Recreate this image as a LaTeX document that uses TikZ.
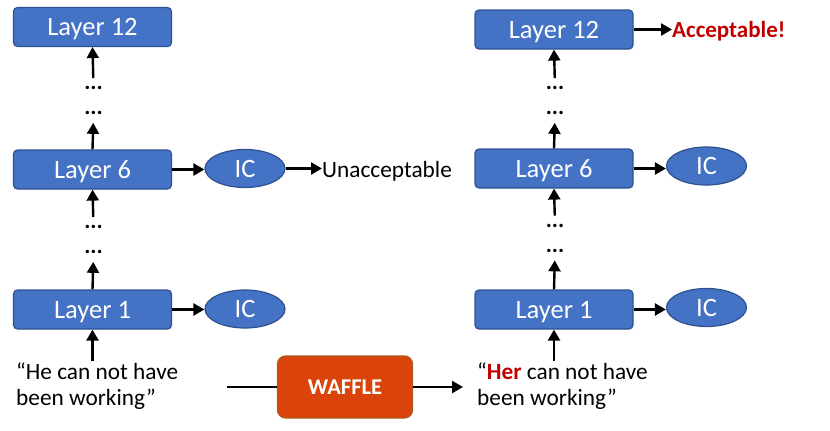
\documentclass[tikz,border=0pt]{standalone}
\usepackage{fontspec}
\setmainfont{Carlito}
\usetikzlibrary{arrows.meta,shapes.geometric}
\definecolor{boxblue}{HTML}{4472C4}
\definecolor{boxedge}{HTML}{2F528F}
\definecolor{waffleor}{HTML}{DA440A}
\definecolor{waffleedge}{HTML}{AE5A21}
\definecolor{okred}{HTML}{C00000}
\begin{document}
\begin{tikzpicture}[x=1pt,y=-1pt,
  layer/.style={draw=boxedge, line width=1.2pt, fill=boxblue, rounded corners=4pt,
    minimum width=158pt, minimum height=39pt, inner sep=0pt, text=white, text depth=0pt,
    font=\fontsize{26.5}{30}\selectfont},
  icnode/.style={ellipse, draw=boxedge, line width=1.2pt, fill=boxblue,
    minimum width=80pt, minimum height=38pt, inner sep=0pt, text=white, text depth=0pt,
    font=\fontsize{26.5}{30}\selectfont},
  arr/.style={line width=2.4pt, -{Triangle[length=11pt,width=12pt]}},
  plain/.style={line width=2.4pt},
  dotpair/.style={font=\fontsize{23}{25}\selectfont\bfseries, align=center, inner sep=0pt, anchor=base},
  txt/.style={font=\fontsize{23.3}{26}\selectfont, align=left, inner sep=0pt, anchor=base west},
  lbl/.style={font=\fontsize{23.3}{26}\selectfont, inner sep=0pt, anchor=base west},
  wafflebox/.style={draw=waffleedge, line width=1.2pt, fill=waffleor, rounded corners=8pt,
    minimum width=135pt, minimum height=62pt, inner sep=0pt, text=white, text depth=0pt,
    font=\fontsize{22.5}{26}\selectfont\bfseries},
  gapstart/.style={shorten <=8pt},
  gapend/.style={shorten >=8pt}
]
\useasboundingbox (0,0) rectangle (830,431);

% ---------- left column ----------
\node[layer] (L12a) at (92.5,27) {Layer 12};
\node[layer] (L6a) at (92.5,169.5) {Layer 6};
\node[layer] (L1a) at (92.5,309.5) {Layer 1};
\node[icnode] (IC6a) at (245,168.5) {IC};
\node[icnode] (IC1a) at (245,309) {IC};
\node[dotpair] (daU) at (93.5,114.5) {...\\...};
\node[dotpair] (daL) at (93.5,253.5) {...\\...};
\node[lbl] (unacc) at (322,177) {Unacceptable};
\node[txt] (txtA) at (16,405) {“He can not have\\been working”};

\draw[arr, gapstart] (daU.north) -- (L12a.south);
\draw[arr, gapend] (L6a.north) -- (daU.south);
\draw[arr, gapstart] (daL.north) -- (L6a.south);
\draw[arr, gapend] (L1a.north) -- (daL.south);
\coordinate (inA) at (92.5,361);
\draw[arr] (inA) -- (L1a.south);
\draw[arr] (L6a.east) -- (L6a.east -| IC6a.west);
\draw[arr] (IC6a.east) -- (unacc.west |- IC6a.east);
\draw[arr] (L1a.east) -- (L1a.east -| IC1a.west);

% ---------- WAFFLE ----------
\node[wafflebox] (waf) at (345,387) {WAFFLE};
\coordinate (wstart) at (227,387);
\coordinate (wend) at (463,387);
\draw[plain] (wstart) -- (waf.west);
\draw[arr] (waf.east) -- (wend);

% ---------- right column ----------
\node[layer] (L12b) at (554,29.5) {Layer 12};
\node[layer] (L6b) at (554,168.5) {Layer 6};
\node[layer] (L1b) at (554,309.5) {Layer 1};
\node[icnode] (IC6b) at (706.5,166) {IC};
\node[icnode] (IC1b) at (706.5,307.5) {IC};
\node[dotpair] (dbU) at (555,114.5) {...\\...};
\node[dotpair] (dbL) at (555,252) {...\\...};
\node[lbl, text=okred, font=\fontsize{23}{26}\selectfont\bfseries] (acc) at (672,37) {Acceptable!};
\node[txt] (txtB) at (477,405) {“\textcolor{okred}{\textbf{Her}} can not have\\been working”};

\draw[arr, gapstart] (dbU.north) -- (L12b.south);
\draw[arr, gapend] (L6b.north) -- (dbU.south);
\draw[arr, gapstart] (dbL.north) -- (L6b.south);
\draw[arr, gapend] (L1b.north) -- (dbL.south);
\coordinate (inB) at (554,361);
\draw[arr] (inB) -- (L1b.south);
\draw[arr] (L12b.east) -- (acc.west |- L12b.east);
\draw[arr] (L6b.east) -- (L6b.east -| IC6b.west);
\draw[arr] (L1b.east) -- (L1b.east -| IC1b.west);
\end{tikzpicture}
\end{document}
